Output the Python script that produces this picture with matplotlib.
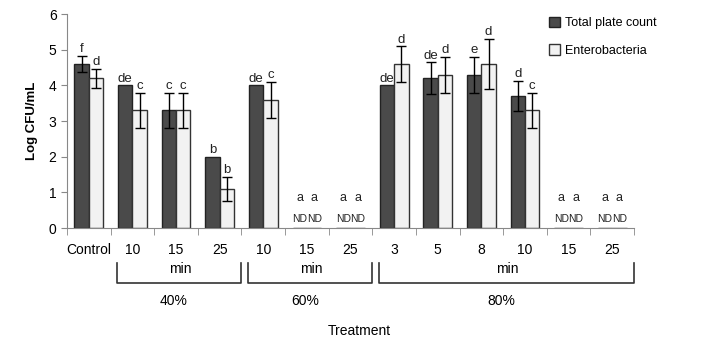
import numpy as np
import matplotlib.pyplot as plt

plt.rcParams['font.family'] = ['Liberation Sans', 'DejaVu Sans']

# data
tick_labels = ['Control', '10', '15', '25', '10', '15', '25', '3', '5', '8', '10', '15', '25']
tpc = [4.6, 4.0, 3.3, 2.0, 4.0, 0, 0, 4.0, 4.2, 4.3, 3.7, 0, 0]
tpc_err = [0.23, 0, 0.5, 0, 0, 0, 0, 0, 0.45, 0.5, 0.42, 0, 0]
ent = [4.2, 3.3, 3.3, 1.1, 3.6, 0, 0, 4.6, 4.3, 4.6, 3.3, 0, 0]
ent_err = [0.27, 0.49, 0.49, 0.33, 0.51, 0, 0, 0.5, 0.5, 0.7, 0.49, 0, 0]
tpc_letters = ['f', 'de', 'c', 'b', 'de', 'a', 'a', 'de', 'de', 'e', 'd', 'a', 'a']
ent_letters = ['d', 'c', 'c', 'b', 'c', 'a', 'a', 'd', 'd', 'd', 'c', 'a', 'a']
nd = [False, False, False, False, False, True, True, False, False, False, False, True, True]
groups = [('40%', 1, 3), ('60%', 4, 6), ('80%', 7, 12)]

fig = plt.figure(figsize=(7.03, 3.45), dpi=100)
ax = fig.add_axes([0.0953, 0.339, 0.8067, 0.62])

x = np.arange(len(tick_labels))
w = 0.33
ax.bar(x - w / 2, tpc, w, color='#4a4a4a', edgecolor='#222222', linewidth=1, label='Total plate count')
ax.bar(x + w / 2, ent, w, color='#f2f2f2', edgecolor='#333333', linewidth=1, label='Enterobacteria')

for xs, vals, errs in [(x - w / 2, tpc, tpc_err), (x + w / 2, ent, ent_err)]:
    idx = [i for i in range(len(vals)) if errs[i] > 0]
    ax.errorbar(xs[idx], np.array(vals)[idx], yerr=np.array(errs)[idx], fmt='none',
                ecolor='black', elinewidth=1, capsize=3.5, capthick=1)

# significance letters and ND marks
for xs, vals, errs, lets in [(x - w / 2, tpc, tpc_err, tpc_letters), (x + w / 2, ent, ent_err, ent_letters)]:
    for i in range(len(vals)):
        if nd[i]:
            ax.text(xs[i], 0.12, 'ND', ha='center', va='bottom', fontsize=7.5, color='#222222')
            ax.text(xs[i], 0.68, lets[i], ha='center', va='bottom', fontsize=9, color='#222222')
        else:
            ax.text(xs[i], vals[i] + errs[i] + 0.02, lets[i], ha='center', va='bottom',
                    fontsize=9.5, color='#222222')

ax.set_xlim(-0.5, len(tick_labels) - 0.5)
ax.set_ylim(0, 6)
ax.set_yticks(range(7))
ax.set_xticks(x)
ax.set_xticklabels(tick_labels, fontsize=10)
ax.tick_params(axis='x', which='major', length=0, pad=11)
ax.set_xticks(np.arange(-0.5, len(tick_labels)), minor=True)
ax.tick_params(axis='x', which='minor', length=5, color='#888888', direction='out')
ax.tick_params(axis='y', length=4, color='#888888', labelsize=10)
for s in ['top', 'right']:
    ax.spines[s].set_visible(False)
for s in ['left', 'bottom']:
    ax.spines[s].set_color('#888888')

ax.set_ylabel('Log CFU/mL', fontsize=9.5, fontweight='bold', labelpad=8)

# group brackets under the tick labels
trans = ax.get_xaxis_transform()
for name, i0, i1 in groups:
    xa, xb = i0 - 0.35, i1 + 0.5
    ax.plot([xa, xa, xb, xb], [-0.165, -0.255, -0.255, -0.165], color='#333333', lw=1.2,
            transform=trans, clip_on=False)
    ax.text((i0 + i1) / 2 + 0.1, -0.19, 'min', ha='center', va='center', fontsize=10, transform=trans)
    ax.text((i0 + i1) / 2 - 0.05, -0.34, name, ha='center', va='center', fontsize=10, transform=trans)

ax.text(6.2, -0.48, 'Treatment', ha='center', va='center', fontsize=10, transform=trans)

ax.legend(loc='upper left', bbox_to_anchor=(0.83, 1.04), frameon=False, fontsize=9,
          handlelength=0.9, handleheight=0.9, handletextpad=0.4, labelspacing=1.2)

fig.savefig('out.png', dpi=100)
